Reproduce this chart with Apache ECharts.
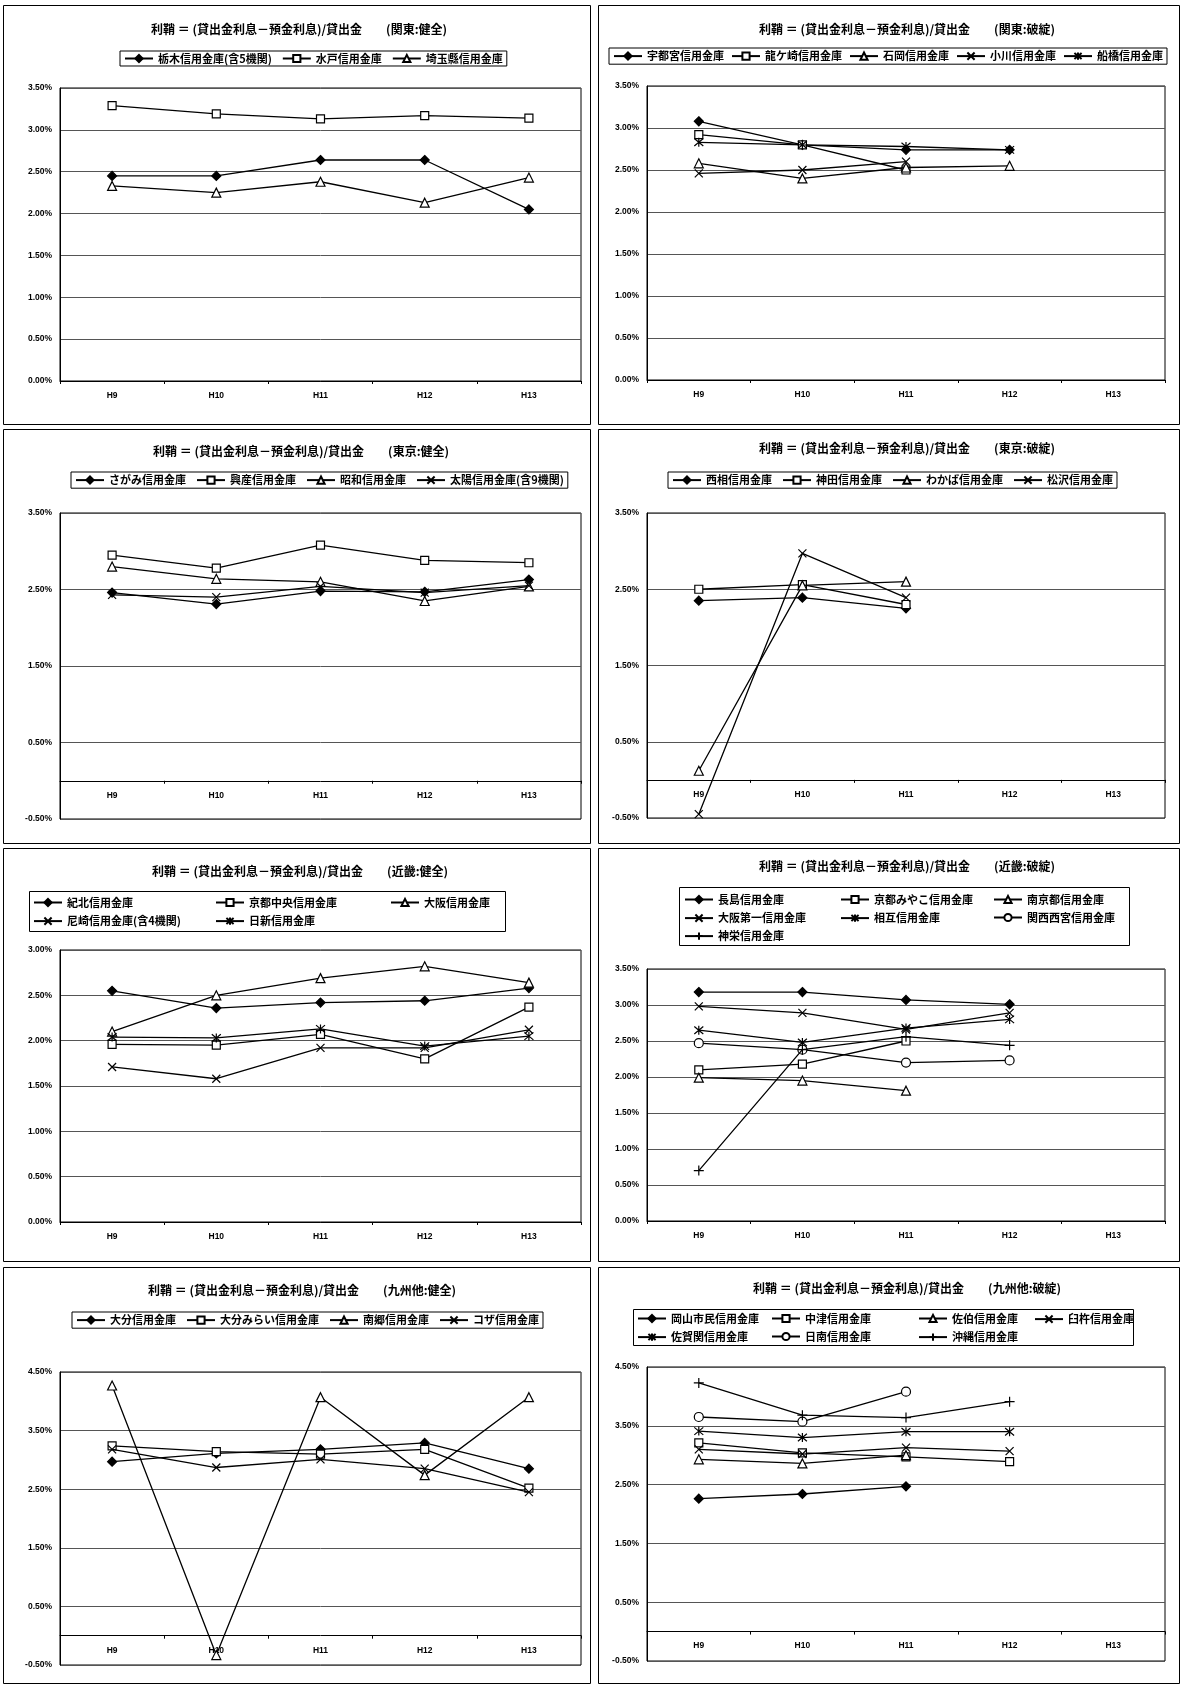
<!DOCTYPE html>
<html><head><meta charset="utf-8">
<script src="https://cdn.jsdelivr.net/npm/echarts@6/dist/echarts.min.js"></script>
<style>html,body{margin:0;padding:0;background:#fff}#c{width:1181px;height:1684px}</style>
</head><body><div id="c"></div>
<script>
// ---------- DATA ----------
const categories = ['H9', 'H10', 'H11', 'H12', 'H13'];

const titles = [
  '利鞘 ＝ (貸出金利息－預金利息)/貸出金　　(関東:健全)',
  '利鞘 ＝ (貸出金利息－預金利息)/貸出金　　(関東:破綻)',
  '利鞘 ＝ (貸出金利息－預金利息)/貸出金　　(東京:健全)',
  '利鞘 ＝ (貸出金利息－預金利息)/貸出金　　(東京:破綻)',
  '利鞘 ＝ (貸出金利息－預金利息)/貸出金　　(近畿:健全)',
  '利鞘 ＝ (貸出金利息－預金利息)/貸出金　　(近畿:破綻)',
  '利鞘 ＝ (貸出金利息－預金利息)/貸出金　　(九州他:健全)',
  '利鞘 ＝ (貸出金利息－預金利息)/貸出金　　(九州他:破綻)'
];

// Panel 1 関東:健全
const p1Names = ['栃木信用金庫(含5機関)', '水戸信用金庫', '埼玉縣信用金庫'];
const tochigi = [2.45, 2.45, 2.64, 2.64, 2.05];
const mito = [3.29, 3.19, 3.13, 3.17, 3.14];
const saitamaken = [2.33, 2.25, 2.38, 2.13, 2.43];

// Panel 2 関東:破綻
const p2Names = ['宇都宮信用金庫', '龍ケ崎信用金庫', '石岡信用金庫', '小川信用金庫', '船橋信用金庫'];
const utsunomiya = [3.08, 2.80, 2.74, 2.74, null];
const ryugasaki = [2.92, 2.80, 2.50, null, null];
const ishioka = [2.58, 2.40, 2.53, 2.55, null];
const ogawa = [2.46, 2.50, 2.60, null, null];
const funabashi = [2.83, 2.80, 2.78, 2.74, null];

// Panel 3 東京:健全
const p3Names = ['さがみ信用金庫', '興産信用金庫', '昭和信用金庫', '太陽信用金庫(含9機関)'];
const sagami = [2.46, 2.31, 2.48, 2.47, 2.63];
const kosan = [2.95, 2.78, 3.08, 2.88, 2.85];
const showa = [2.80, 2.64, 2.60, 2.35, 2.54];
const taiyo = [2.43, 2.40, 2.54, 2.46, 2.55];

// Panel 4 東京:破綻
const p4Names = ['西相信用金庫', '神田信用金庫', 'わかば信用金庫', '松沢信用金庫'];
const seiso = [2.35, 2.39, 2.25, null, null];
const kanda = [2.50, 2.56, 2.30, null, null];
const wakaba = [0.12, 2.55, 2.60, null, null];
const matsuzawa = [-0.45, 2.97, 2.39, null, null];

// Panel 5 近畿:健全
const p5Names = ['紀北信用金庫', '京都中央信用金庫', '大阪信用金庫', '尼崎信用金庫(含4機関)', '日新信用金庫'];
const kihoku = [2.55, 2.36, 2.42, 2.44, 2.58];
const kyotoChuo = [1.96, 1.95, 2.07, 1.80, 2.37];
const osaka = [2.10, 2.50, 2.69, 2.82, 2.64];
const amagasaki = [1.71, 1.58, 1.92, 1.92, 2.12];
const nisshin = [2.04, 2.03, 2.13, 1.94, 2.05];

// Panel 6 近畿:破綻
const p6Names = ['長島信用金庫', '京都みやこ信用金庫', '南京都信用金庫', '大阪第一信用金庫', '相互信用金庫', '関西西宮信用金庫', '神栄信用金庫'];
const nagashima = [3.18, 3.18, 3.07, 3.01, null];
const kyotoMiyako = [2.10, 2.18, 2.50, null, null];
const minamiKyoto = [1.99, 1.95, 1.81, null, null];
const osakaDaiichi = [2.98, 2.89, 2.66, 2.89, null];
const sogo = [2.65, 2.48, 2.68, 2.80, null];
const kansaiNishinomiya = [2.47, 2.38, 2.20, 2.23, null];
const shinei = [0.70, 2.38, 2.56, 2.44, null];

// Panel 7 九州他:健全
const p7Names = ['大分信用金庫', '大分みらい信用金庫', '南郷信用金庫', 'コザ信用金庫'];
const oita = [2.97, 3.11, 3.18, 3.29, 2.85];
const oitaMirai = [3.24, 3.14, 3.10, 3.18, 2.52];
const nango = [4.27, -0.33, 4.07, 2.74, 4.07];
const koza = [3.18, 2.87, 3.01, 2.85, 2.45];

// Panel 8 九州他:破綻
const p8Names = ['岡山市民信用金庫', '中津信用金庫', '佐伯信用金庫', '臼杵信用金庫', '佐賀関信用金庫', '日南信用金庫', '沖縄信用金庫'];
const okayamaShimin = [2.26, 2.34, 2.47, null, null];
const nakatsu = [3.21, 3.04, 2.97, 2.89, null];
const saiki = [2.93, 2.86, 3.00, null, null];
const usuki = [3.10, 3.02, 3.13, 3.07, null];
const saganoseki = [3.41, 3.30, 3.40, 3.40, null];
const nichinan = [3.65, 3.57, 4.08, null, null];
const okinawa = [4.23, 3.68, 3.64, 3.91, null];

// axis ranges per panel [min, max, interval]
const yRanges = [
  [0, 3.5, 0.5], [0, 3.5, 0.5],
  [-0.5, 3.5, 1], [-0.5, 3.5, 1],
  [0, 3.0, 0.5], [0, 3.5, 0.5],
  [-0.5, 4.5, 1], [-0.5, 4.5, 1]
];

const panelSeries = [
  [tochigi, mito, saitamaken],
  [utsunomiya, ryugasaki, ishioka, ogawa, funabashi],
  [sagami, kosan, showa, taiyo],
  [seiso, kanda, wakaba, matsuzawa],
  [kihoku, kyotoChuo, osaka, amagasaki, nisshin],
  [nagashima, kyotoMiyako, minamiKyoto, osakaDaiichi, sogo, kansaiNishinomiya, shinei],
  [oita, oitaMirai, nango, koza],
  [okayamaShimin, nakatsu, saiki, usuki, saganoseki, nichinan, okinawa]
];
const panelNames = [p1Names, p2Names, p3Names, p4Names, p5Names, p6Names, p7Names, p8Names];

// ---------- LAYOUT / STYLE ----------
const markers = [
  { symbol: 'diamond', fill: '#000', size: 9 },
  { symbol: 'rect', fill: '#fff', size: 8 },
  { symbol: 'triangle', fill: '#fff', size: 9 },
  { symbol: 'path://M0,0L10,10M10,0L0,10', fill: 'none', size: 8 },
  { symbol: 'path://M0,1L10,11M10,1L0,11M5,0L5,12', fill: 'none', size: 9 },
  { symbol: 'circle', fill: '#fff', size: 9 },
  { symbol: 'path://M5,0L5,10M0,5L10,5', fill: 'none', size: 10 }
];

const frames = [
  [3, 5, 587, 419], [598, 5, 581, 419],
  [3, 429, 587, 414], [598, 429, 581, 414],
  [3, 848, 587, 413], [598, 848, 581, 413],
  [3, 1267, 587, 416], [598, 1267, 581, 416]
];
const grids = [
  [60, 88, 521, 293], [647, 86, 518, 294],
  [60, 513, 521, 306], [647, 513, 518, 305],
  [60, 950, 521, 272], [647, 969, 518, 252],
  [60, 1372, 521, 293], [647, 1367, 518, 294]
];
const titlePos = [[299, 29], [907, 29], [301, 451], [907, 448], [300, 871], [907, 866], [302, 1290], [907, 1288]];
// single-row legends: [left, top, itemGap]
const singleLegend = { 0: [120, 51, 10], 1: [609, 48, 7], 2: [71, 472, 10], 3: [668, 472, 10], 6: [72, 1312, 10] };
// multi-row legends: per item positions + box
const multiLegend = {
  4: { box: [29, 891, 476, 40], items: [[33, 897], [215, 897], [390, 897], [33, 915], [215, 915]] },
  5: { box: [679, 887, 450, 58], items: [[684, 894], [840, 894], [993, 894], [684, 912], [840, 912], [993, 912], [684, 930]] },
  7: { box: [633, 1309, 500, 36], items: [[637, 1313], [771, 1313], [918, 1313], [1034, 1313], [637, 1331], [771, 1331], [918, 1331]] }
};

const cjk = '"Noto Sans CJK JP", "Noto Sans", sans-serif';
const legendText = { fontSize: 11, fontWeight: 'bold', fontFamily: cjk, color: '#000' };

const option = {
  animation: false,
  backgroundColor: '#fff',
  grid: [], xAxis: [], yAxis: [], series: [], legend: [], graphic: []
};

for (let p = 0; p < 8; p++) {
  const g = grids[p];
  const r = yRanges[p];
  // category axis sits where the value axis crosses zero
  const zeroOffset = -g[3] * (0 - r[0]) / (r[1] - r[0]);
  option.grid.push({ left: g[0], top: g[1], width: g[2], height: g[3], show: true, borderColor: '#000', borderWidth: 1, backgroundColor: '#fff' });
  option.xAxis.push({
    type: 'category', gridIndex: p, data: categories, boundaryGap: true, position: 'bottom', offset: zeroOffset,
    axisLine: { onZero: false, lineStyle: { color: '#000', width: 1 } },
    axisTick: { show: true, length: 3, lineStyle: { color: '#000' } },
    axisLabel: { color: '#000', fontSize: 8.5, fontWeight: 'bold', fontFamily: 'Liberation Sans', margin: 10 }
  });
  option.yAxis.push({
    type: 'value', gridIndex: p, min: r[0], max: r[1], interval: r[2],
    axisLine: { show: true, lineStyle: { color: '#000' } },
    axisTick: { show: false },
    splitLine: { show: true, lineStyle: { color: '#555', width: 1 } },
    axisLabel: { color: '#000', fontSize: 8.5, fontWeight: 'bold', fontFamily: 'Liberation Sans', margin: 8,
      formatter: v => v.toFixed(2) + '%' }
  });
  const names = panelNames[p];
  panelSeries[p].forEach((data, i) => {
    const m = markers[i];
    option.series.push({
      type: 'line', name: names[i], xAxisIndex: p, yAxisIndex: p, data: data,
      symbol: m.symbol, symbolSize: m.size, showAllSymbol: true,
      lineStyle: { color: '#000', width: 1.3 },
      itemStyle: { color: m.fill, borderColor: '#000', borderWidth: 1.2 },
      z: 3 + i
    });
  });
  const f = frames[p];
  option.graphic.push({ type: 'rect', shape: { x: f[0] + 0.5, y: f[1] + 0.5, width: f[2], height: f[3] }, style: { fill: 'none', stroke: '#000', lineWidth: 1 } });
  option.graphic.push({ type: 'text', x: titlePos[p][0], y: titlePos[p][1],
    style: { text: titles[p], fill: '#000', fontSize: 12, fontWeight: 'bold', fontFamily: cjk, align: 'center', verticalAlign: 'middle' } });
  if (singleLegend[p]) {
    option.legend.push({
      data: names, left: singleLegend[p][0], top: singleLegend[p][1], orient: 'horizontal',
      itemWidth: 28, itemHeight: 9, itemGap: singleLegend[p][2], padding: [2, 4, 2, 4],
      borderColor: '#000', borderWidth: 1, selectedMode: false, textStyle: legendText
    });
  } else {
    const ml = multiLegend[p];
    option.graphic.push({ type: 'rect', shape: { x: ml.box[0] + 0.5, y: ml.box[1] + 0.5, width: ml.box[2], height: ml.box[3] }, style: { fill: 'none', stroke: '#000', lineWidth: 1 } });
    names.forEach((n, i) => {
      option.legend.push({
        data: [n], left: ml.items[i][0], top: ml.items[i][1], orient: 'horizontal',
        itemWidth: 28, itemHeight: 9, padding: 0, selectedMode: false, textStyle: legendText
      });
    });
  }
}

const chart = echarts.init(document.getElementById('c'), null, { renderer: 'canvas' });
chart.setOption(option);
</script>
</body></html>
